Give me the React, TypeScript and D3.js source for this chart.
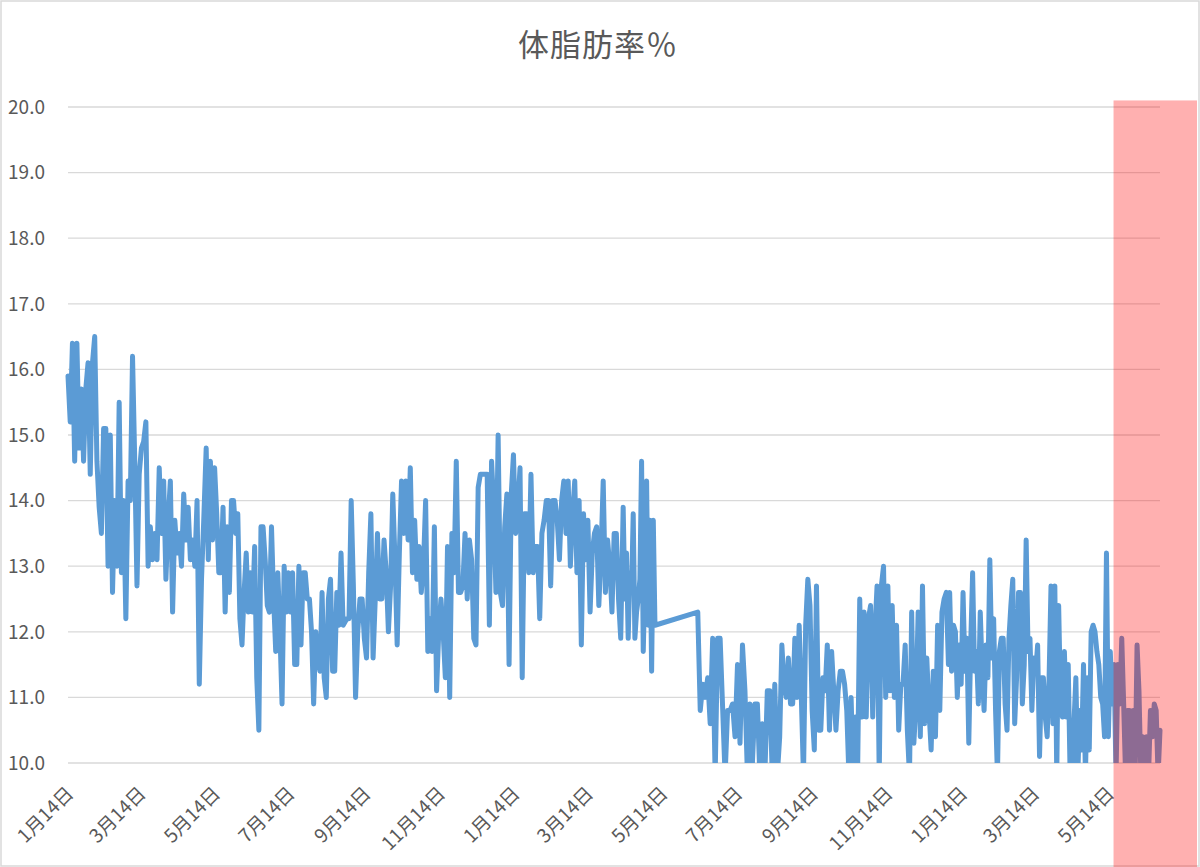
import { useMemo } from 'react'
import * as d3 from 'd3'

// body-fat readings in blocks; readings inside a block are spread evenly
// between its first and last date. No readings between 2020-05-08 and 2020-06-12.
const earlySpring2019 = [
  15.9, 15.2, 16.4, 14.6, 16.4, 14.8, 15.7, 14.6, 15.7, 16.1, 14.4, 16.1, 16.5, 14.6, 13.9, 13.5,
  15.1, 15.1, 13.0, 15.0, 12.6, 14.0, 13.0, 15.5, 12.9, 14.0, 12.2, 14.3, 14.0, 16.2, 14.6, 12.7,
  14.4, 14.8, 14.9, 15.2, 13.0, 13.6, 13.1, 13.5, 13.1, 14.5, 13.5, 14.3, 12.8, 13.7, 14.3, 12.3,
  13.7, 13.2, 13.5, 13.0, 14.1, 13.4, 13.9, 13.1, 13.4, 13.0, 14.0, 11.2, 12.8, 13.7,
]
const summer2019 = [
  14.8, 13.1, 14.6, 13.4, 14.5, 13.8, 12.9, 12.9, 13.9, 12.3, 13.6, 12.6, 14.0, 14.0, 13.5, 13.8,
  12.2, 11.8, 12.6, 13.2, 12.3, 12.9, 12.3, 13.3, 11.3, 10.5, 13.6, 13.6, 13.1, 12.4, 12.3, 13.6,
  12.5, 11.7, 12.9, 12.0, 10.9, 13.0, 12.3, 12.9, 12.3, 12.9, 11.5, 11.5, 13.0, 11.8, 12.9, 12.9,
  12.5, 12.5, 12.0, 10.9, 12.0, 11.6, 11.4, 12.6, 11.3, 11.0, 12.5, 12.8, 11.4, 11.4, 12.6, 12.1,
  13.2, 12.1,
]
const autumn2019 = [
  12.2, 12.2, 14.0, 12.7, 11.0, 12.0, 12.5, 12.5, 11.9, 11.6, 12.9, 13.8, 11.6, 12.5, 13.5, 12.5,
  12.5, 13.4, 12.9, 12.0, 12.7, 14.1, 13.1, 11.8, 13.2, 14.3, 13.5, 14.3, 13.4, 14.5, 12.9, 13.7,
  12.8, 13.3, 12.6, 13.0, 14.0, 11.7, 12.2, 11.7, 13.6, 11.1, 12.0, 12.5, 12.0, 11.3, 13.3, 11.0,
  13.5, 12.9, 14.6, 12.6, 12.6, 12.7, 13.5, 12.5, 13.4, 13.1, 11.9, 11.8, 14.2, 14.4, 14.4,
]
const winter2020 = [
  14.4, 14.4, 12.1, 14.6, 13.9, 12.6, 15.0, 12.6, 12.4, 13.6, 14.1, 11.5, 14.1, 14.7, 13.5, 13.9,
  14.5, 11.3, 13.8, 13.8, 12.9, 14.4, 12.9, 13.3, 13.3, 12.2, 13.5, 13.7, 14.0, 14.0, 12.7, 14.0,
  14.0, 13.7, 13.1, 14.0, 14.3, 13.5, 14.3, 13.0, 13.8, 14.3, 12.9, 14.0, 11.8, 13.8, 13.1, 13.7,
  12.3, 13.2, 13.5, 13.6, 12.4, 13.2, 14.3, 12.6, 13.4, 13.0, 12.3, 13.5, 13.5, 12.5, 11.9,
]
const spring2020 = [
  13.9, 12.5, 13.2, 11.9, 12.9, 12.6, 13.8, 11.9, 12.3, 12.5, 12.8, 14.6, 11.7, 12.8, 14.3, 12.1,
  13.7, 11.4, 13.7, 12.1,
]
const summer2020 = [
  12.3, 10.8, 11.2, 11.0, 11.3, 10.6, 11.9, 9.8, 11.9, 11.9, 10.85, 9.8, 10.8, 10.8, 10.9, 10.4,
  11.5, 10.3, 11.8, 11.1, 9.8, 10.9, 10.0, 10.9, 10.9, 9.8, 10.6, 9.8, 11.1, 11.1, 9.8, 11.2, 9.8,
]
const autumn2020 = [
  10.4, 11.8, 11.2, 11.0, 11.6, 10.9, 10.9, 11.9, 11.0, 12.1, 11.0, 9.8, 12.1, 12.8, 12.4, 10.8,
  10.2, 12.7, 10.5, 10.5, 11.3, 11.1, 11.8, 10.5, 11.7, 11.1, 10.5, 11.1, 11.4, 11.4, 11.2, 10.8,
  9.8, 11.0, 9.8, 10.7, 9.8, 12.5, 10.7, 12.3, 10.7, 12.2, 12.4, 10.7, 12.0, 12.7, 9.8, 12.7, 13.0,
  11.0, 12.7, 11.1, 12.4, 11.0, 12.1, 10.5, 11.2, 11.2, 11.8, 10.5, 9.8, 12.3, 10.3, 10.9, 12.3,
  10.4, 12.7, 10.6, 11.6, 10.8, 10.2, 11.4, 10.4, 12.1, 10.8, 12.3, 12.5, 12.6, 11.5,
]
const firstHalf2021 = [
  12.6, 11.4, 12.1, 12.0, 11.0, 11.8, 11.2, 12.6, 11.4, 11.9, 10.3, 11.8, 12.9, 11.4, 11.7, 10.9,
  12.3, 11.4, 10.8, 11.8, 11.3, 13.1, 11.6, 12.2, 10.8, 9.8, 11.7, 11.9, 11.9, 10.9, 10.5, 11.9,
  12.4, 12.8, 10.6, 11.3, 12.6, 12.6, 10.9, 11.5, 13.4, 11.7, 11.9, 10.8, 11.6, 11.4, 11.8, 10.1,
  11.3, 11.3, 10.7, 10.4, 11.3, 12.7, 10.6, 12.7, 9.8, 12.4, 10.9, 10.7, 11.7, 10.7, 11.5, 9.8,
  9.8, 10.6, 11.3, 9.8, 10.8, 10.2, 11.5, 9.8, 11.3, 10.2, 12.0, 12.1, 12.0, 11.7, 11.5, 11.0,
  10.9, 10.4, 13.2, 10.4, 11.7, 10.9, 11.5, 9.8, 11.5, 10.9, 11.9, 10.9, 9.8, 10.8, 10.8, 9.8,
  10.8, 9.8, 11.8, 11.1, 9.8, 10.4, 9.8, 10.4, 9.8, 10.8, 10.4, 10.9, 10.8, 9.8, 10.5,
]

const blocks: [string, string, number[]][] = [
  ['2019-01-14', '2019-05-05', earlySpring2019],
  ['2019-05-07', '2019-08-27', summer2019],
  ['2019-08-30', '2019-12-19', autumn2019],
  ['2019-12-21', '2020-04-10', winter2020],
  ['2020-04-12', '2020-05-08', spring2020],
  ['2020-06-12', '2020-08-16', summer2020],
  ['2020-08-18', '2021-01-03', autumn2020],
  ['2021-01-04', '2021-06-25', firstHalf2021],
]

const axisStart = '2019-01-14'
const axisEnd = '2021-06-25'
const highlightStart = '2021-05-18'

const yTicks = [10, 11, 12, 13, 14, 15, 16, 17, 18, 19, 20]
const xTicks = [
  '2019-01-14', '2019-03-14', '2019-05-14', '2019-07-14', '2019-09-14', '2019-11-14',
  '2020-01-14', '2020-03-14', '2020-05-14', '2020-07-14', '2020-09-14', '2020-11-14',
  '2021-01-14', '2021-03-14', '2021-05-14',
]

const TITLE = '体脂肪率％'
const FONT = '"Noto Sans CJK JP", "Noto Sans", sans-serif'
const TEXT = '#595959'
const GRID = '#D9D9D9'

const parse = d3.timeParse('%Y-%m-%d')

type Point = { date: Date; value: number }

function spread(start: string, end: string, values: number[]): Point[] {
  const t0 = parse(start)!.getTime()
  const t1 = parse(end)!.getTime()
  const n = values.length
  return values.map((v, i) => ({ date: new Date(t0 + ((t1 - t0) * i) / (n - 1)), value: v }))
}

export default function App() {
  const width = 1200
  const height = 867
  const left = 68
  const right = 1160
  const top = 107
  const bottom = 763

  const points = useMemo(() => blocks.flatMap(([s, e, v]) => spread(s, e, v)), [])

  const x = d3.scaleTime().domain([parse(axisStart)!, parse(axisEnd)!]).range([left, right])
  const y = d3.scaleLinear().domain([10, 20]).range([bottom, top])

  const line = d3
    .line<Point>()
    .x((d) => x(d.date))
    .y((d) => y(d.value))

  const hx = x(parse(highlightStart)!)
  const hy = y(20.1)

  return (
    <>
      <style>{'body{margin:0}'}</style>
      <svg width={width} height={height} style={{ display: 'block', fontFamily: FONT }}>
        <defs>
          <clipPath id="plot">
            <rect x={left - 10} y={top - 10} width={right - left + 20} height={bottom - top + 10} />
          </clipPath>
        </defs>
        <rect x={0} y={0} width={width} height={height} fill="#fff" />
        <rect x={1} y={1} width={width - 2} height={height - 2} fill="none" stroke={GRID} strokeWidth={1.5} />

        <text x={598} y={56} textAnchor="middle" fontSize={31} fill={TEXT} letterSpacing={1}>
          {TITLE}
        </text>

        {yTicks.map((t) => (
          <g key={t}>
            <line x1={left} x2={right} y1={y(t)} y2={y(t)} stroke={GRID} strokeWidth={1.3} />
            <text x={45} y={y(t)} dy="0.36em" textAnchor="end" fontSize={19} fill={TEXT}>
              {t.toFixed(1)}
            </text>
          </g>
        ))}

        {xTicks.map((s, i) => {
          const d = parse(s)!
          const tx = x(d) + 2
          const ty = bottom + 27
          return (
            <text
              key={i}
              transform={`translate(${tx},${ty}) rotate(-45)`}
              dy="0.35em"
              textAnchor="end"
              fontSize={19}
              fill={TEXT}
            >
              {`${d.getMonth() + 1}月${d.getDate()}日`}
            </text>
          )
        })}

        <path
          d={line(points) ?? ''}
          clipPath="url(#plot)"
          fill="none"
          stroke="#5B9BD5"
          strokeWidth={5}
          strokeLinejoin="round"
          strokeLinecap="round"
        />

        <rect x={hx} y={hy} width={1197 - hx} height={height - hy} fill="#FF0000" opacity={0.31} />
      </svg>
    </>
  )
}
